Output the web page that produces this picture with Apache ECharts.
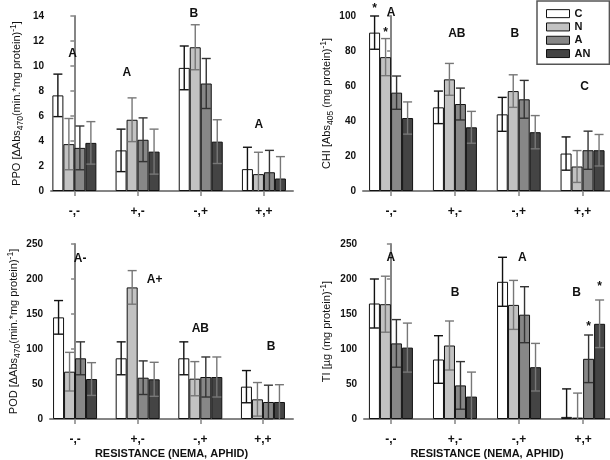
<!DOCTYPE html>
<html><head><meta charset="utf-8">
<script src="https://cdn.jsdelivr.net/npm/echarts@6/dist/echarts.min.js"></script>
<style>html,body{margin:0;padding:0;background:#fff}#c{width:610px;height:460px}</style>
</head><body><div id="c"></div>
<script>
// ---------- data ----------
const categories = ['-,-', '+,-', '-,+', '+,+'];
const seriesNames = ['C', 'N', 'A', 'AN'];

// PPO
const ppoC = [7.65, 3.25, 9.85, 1.75];
const ppoN = [3.75, 5.7, 11.5, 1.35];
const ppoA = [3.45, 4.1, 8.6, 1.5];
const ppoAN = [3.85, 3.15, 3.95, 1.0];
const ppoErrC = [1.7, 1.7, 1.75, 1.75];
const ppoErrN = [2.05, 1.75, 1.8, 1.75];
const ppoErrA = [1.75, 1.75, 2.0, 1.75];
const ppoErrAN = [1.7, 1.8, 1.75, 1.75];
const ppoLetters = ['A', 'A', 'B', 'A'];
const ppoLetterY = [11.0, 9.5, 14.2, 5.3];
const ppoLetterDX = [-0.03, -0.17, -0.11, -0.08];

// CHI
const chiC = [90.5, 47.8, 43.8, 21.4];
const chiN = [76.5, 63.8, 57.1, 14.0];
const chiA = [56.2, 49.7, 52.4, 23.3];
const chiAN = [41.7, 36.4, 33.6, 23.3];
const chiErrC = [9.5, 9.3, 9.7, 9.5];
const chiErrN = [10.6, 9.1, 9.3, 9.1];
const chiErrA = [9.5, 9.1, 10.8, 10.9];
const chiErrAN = [9.2, 9.1, 9.5, 9.0];
const chiLetters = ['A', 'AB', 'B', 'C'];
const chiLetterY = [101.7, 90, 90, 59.6];
const chiLetterDX = [0, 0.03, -0.06, 0.03];
const chiStarGroup = [0, 0];
const chiStarSeries = [0, 1];
const chiStarY = [104.3, 90.6];

// POD
const podC = [145.2, 86.7, 86.7, 46.2];
const podN = [67.6, 188, 57.6, 28.1];
const podA = [86.7, 59, 60, 24.3];
const podAN = [57.1, 56.7, 60, 24.3];
const podErrC = [24, 23.5, 23.5, 23];
const podErrN = [27.6, 24, 24.4, 24];
const podErrA = [23.5, 24, 28.6, 24];
const podErrAN = [23.4, 24.3, 28.6, 24.7];
const podLetters = ['A-', 'A+', 'AB', 'B'];
const podLetterY = [228.6, 198.6, 128.6, 103];
const podLetterDX = [0.08, 0.27, 0, 0.13];

// TI
const tiC = [165, 85, 196, 3];
const tiN = [164, 105, 163, 2];
const tiA = [108, 48, 149, 86];
const tiAN = [102, 32, 74, 136];
const tiErrC = [35, 34, 35, 40];
const tiErrN = [40, 35, 35, 35];
const tiErrA = [34, 34, 40, 34];
const tiErrAN = [35, 35, 34, 34];
const tiLetters = ['A', 'B', 'A', 'B'];
const tiLetterY = [230, 180, 230, 180];
const tiLetterDX = [0, 0, 0.05, -0.1];
const tiStarGroup = [3, 3];
const tiStarSeries = [2, 3];
const tiStarY = [132, 189];

// ---------- styling ----------
const FONT = "'Liberation Sans', Arial, sans-serif";
const BAR_COLORS = ['#ffffff', '#c2c2c2', '#878787', '#444444'];
const ERR_COLORS = ['#111111', '#777777', '#333333', '#777777'];
const AXIS_COLOR = '#858585';
const BAR_W = 11;
const CAP = 9;

const panels = [
  { vals: [ppoC, ppoN, ppoA, ppoAN], errs: [ppoErrC, ppoErrN, ppoErrA, ppoErrAN],
    letters: ppoLetters, letterY: ppoLetterY, letterDX: ppoLetterDX, stars: null,
    grid: { left: 51, top: 16, width: 242, height: 175 }, xMin: -0.37, xMax: 3.46,
    yMax: 14, yInt: 2, nameGap: 26,
    name: '{t|PPO [ΔAbs}{sub|470}{t|(min.*mg protein)}{sup|-1}{t|]}', xName: '' },
  { vals: [chiC, chiN, chiA, chiAN], errs: [chiErrC, chiErrN, chiErrA, chiErrAN],
    letters: chiLetters, letterY: chiLetterY, letterDX: chiLetterDX,
    stars: { g: chiStarGroup, s: chiStarSeries, y: chiStarY },
    grid: { left: 363, top: 16, width: 247, height: 175 }, xMin: -0.44, xMax: 3.43,
    yMax: 100, yInt: 20, nameGap: 27,
    name: '{t|CHI [Abs}{sub|405}{t| (mg protein)}{sup|-1}{t|]}', xName: '' },
  { vals: [podC, podN, podA, podAN], errs: [podErrC, podErrN, podErrA, podErrAN],
    letters: podLetters, letterY: podLetterY, letterDX: podLetterDX, stars: null,
    grid: { left: 50, top: 244, width: 243, height: 175 }, xMin: -0.40, xMax: 3.48,
    yMax: 250, yInt: 50, nameGap: 24,
    name: '{t|POD [ΔAbs}{sub|470}{t|(min.*mg protein)}{sup|-1}{t|]}', xName: 'RESISTANCE (NEMA, APHID)' },
  { vals: [tiC, tiN, tiA, tiAN], errs: [tiErrC, tiErrN, tiErrA, tiErrAN],
    letters: tiLetters, letterY: tiLetterY, letterDX: tiLetterDX,
    stars: { g: tiStarGroup, s: tiStarSeries, y: tiStarY },
    grid: { left: 364, top: 244, width: 246, height: 175 }, xMin: -0.42, xMax: 3.42,
    yMax: 250, yInt: 50, nameGap: 29,
    name: '{t|TI [µg (mg protein)}{sup|-1}{t|]}', xName: 'RESISTANCE (NEMA, APHID)' }
];

const grids = [], xAxes = [], yAxes = [], series = [];

function errRender(params, api) {
  const g = api.value(0), s = api.value(1), v = api.value(2), e = api.value(3);
  const base = api.coord([g, v]);
  const x = base[0] + (s - 1.5) * BAR_W;
  const yTop = api.coord([g, v + e])[1];
  const lowVal = Math.max(0, v - e);
  const yBot = api.coord([g, lowVal])[1];
  const h = CAP / 2;
  const style = { stroke: ERR_COLORS[s], lineWidth: 1.4 };
  const ch = [
    { type: 'line', shape: { x1: x, y1: yTop, x2: x, y2: yBot }, style },
    { type: 'line', shape: { x1: x - h, y1: yTop, x2: x + h, y2: yTop }, style }
  ];
  if (v - e > 0) ch.push({ type: 'line', shape: { x1: x - h, y1: yBot, x2: x + h, y2: yBot }, style });
  return { type: 'group', children: ch };
}

function textRender(texts, seriesIdx) {
  return function (params, api) {
    const p = api.coord([api.value(0), api.value(1)]);
    const dx = seriesIdx ? (seriesIdx[params.dataIndex] - 1.5) * BAR_W : 0;
    return { type: 'text', x: p[0] + dx, y: p[1],
      style: { text: texts[params.dataIndex], fontSize: 12, fontWeight: 'bold', fontFamily: FONT,
        fill: '#111', align: 'center', verticalAlign: 'middle' } };
  };
}

panels.forEach((p, i) => {
  grids.push(Object.assign({ containLabel: false, outerBoundsMode: 'none' }, p.grid));
  xAxes.push({
    gridIndex: i, type: 'value', min: p.xMin, max: p.xMax,
    name: p.xName, nameLocation: 'middle', nameGap: 29,
    nameTextStyle: { fontFamily: FONT, fontSize: 11, fontWeight: 'bold', color: '#111' },
    axisLine: { show: true, lineStyle: { color: AXIS_COLOR, width: 2 } },
    axisTick: { show: true, customValues: [0, 1, 2, 3], length: 5, lineStyle: { color: AXIS_COLOR, width: 1.5 } },
    axisLabel: { show: true, customValues: [0, 1, 2, 3], margin: 15,
      formatter: v => categories[Math.round(v)],
      fontFamily: FONT, fontSize: 12, fontWeight: 'bold', color: '#111' },
    splitLine: { show: false }
  });
  yAxes.push({
    gridIndex: i, type: 'value', min: 0, max: p.yMax, interval: p.yInt,
    name: p.name, nameLocation: 'middle', nameGap: p.nameGap, nameRotate: 90,
    nameTextStyle: { fontFamily: FONT, fontSize: 11, color: '#111',
      rich: {
        t: { fontFamily: FONT, fontSize: 11, color: '#111', lineHeight: 16 },
        sub: { fontFamily: FONT, fontSize: 8.5, color: '#111', lineHeight: 8, verticalAlign: 'bottom' },
        sup: { fontFamily: FONT, fontSize: 8.5, color: '#111', lineHeight: 8, verticalAlign: 'top' }
      } },
    axisLine: { show: true, lineStyle: { color: AXIS_COLOR, width: 2 } },
    axisTick: { show: true, length: 4, lineStyle: { color: AXIS_COLOR, width: 1.5 } },
    axisLabel: { margin: 7, fontFamily: FONT, fontSize: 10, fontWeight: 'bold', color: '#111' },
    splitLine: { show: false }
  });
  p.vals.forEach((arr, s) => {
    series.push({
      type: 'bar', name: seriesNames[s], xAxisIndex: i, yAxisIndex: i,
      barWidth: BAR_W, barGap: '0%',
      data: arr.map((v, g) => [g, v]),
      itemStyle: { color: BAR_COLORS[s], borderColor: '#111', borderWidth: 1 },
      emphasis: { disabled: true }, z: 2
    });
  });
  const errData = [];
  p.vals.forEach((arr, s) => arr.forEach((v, g) => errData.push([g, s, v, p.errs[s][g]])));
  series.push({ type: 'custom', xAxisIndex: i, yAxisIndex: i, renderItem: errRender,
    data: errData, z: 3, clip: false, silent: true });
  series.push({ type: 'custom', xAxisIndex: i, yAxisIndex: i, renderItem: textRender(p.letters, null),
    data: p.letters.map((t, g) => [g + p.letterDX[g], p.letterY[g]]), z: 4, clip: false, silent: true });
  if (p.stars) {
    series.push({ type: 'custom', xAxisIndex: i, yAxisIndex: i,
      renderItem: textRender(p.stars.g.map(() => '*'), p.stars.s),
      data: p.stars.g.map((g, k) => [g, p.stars.y[k]]), z: 4, clip: false, silent: true });
  }
});

const chart = echarts.init(document.getElementById('c'), null, { renderer: 'canvas' });
chart.setOption({
  animation: false,
  backgroundColor: '#fff',
  legend: {
    data: seriesNames, orient: 'vertical', left: 537, top: 1,
    padding: [6, 19, 4, 9], itemGap: 0, itemWidth: 23, itemHeight: 8, itemTextGap: 5,
    icon: 'rect', borderColor: '#555', borderWidth: 1.5, selectedMode: false,
    itemStyle: { borderColor: '#111', borderWidth: 1 },
    textStyle: { fontFamily: FONT, fontSize: 11, fontWeight: 'bold', color: '#111', lineHeight: 13.3 }
  },
  grid: grids, xAxis: xAxes, yAxis: yAxes, series
});
</script></body></html>
